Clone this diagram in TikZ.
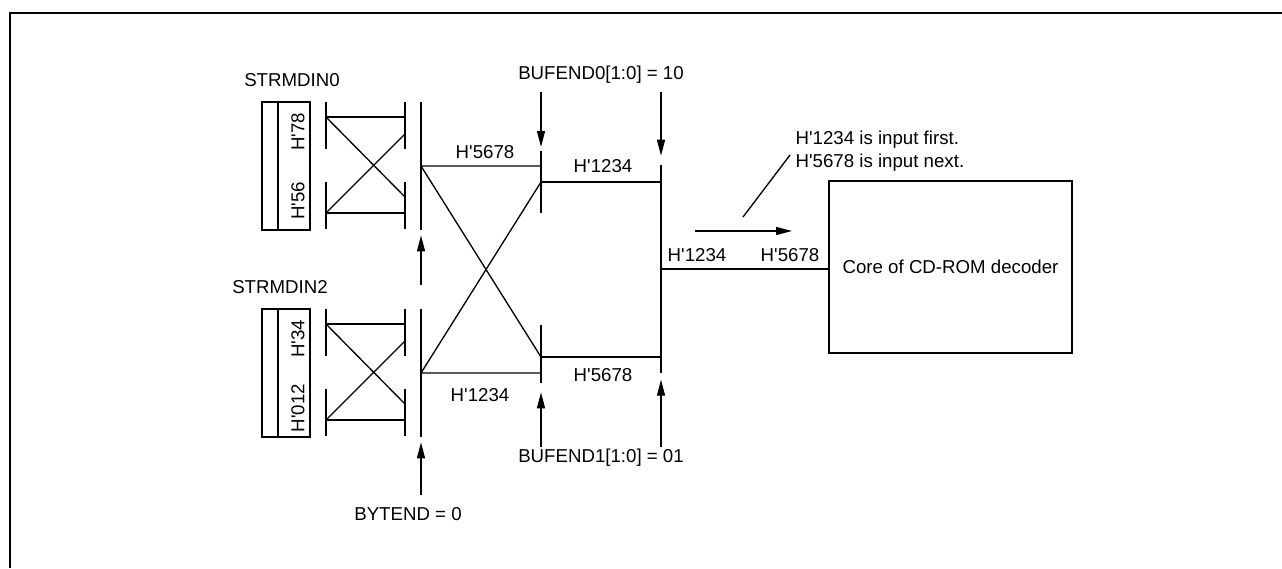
\documentclass[tikz,border=0pt]{standalone}
\usepackage{fontspec}
\setmainfont{Liberation Sans}
\usetikzlibrary{arrows.meta, positioning}
\tikzset{
  every picture/.style={font=\fontsize{14}{16.8}\selectfont, line width=1pt, x=0.75pt, y=-0.75pt},
  reg/.style={draw, line width=1.7pt},
  arrow/.style={-{Triangle[length=12pt, width=6pt]}, line width=1pt, shorten >=4pt},
  lbl/.style={inner sep=0pt},
}
\newcommand{\hval}[1]{H\textquotesingle#1}
% register with its byte swap, #2 = vertical offset in px
\newcommand{\regmux}[4]{%
  \begin{scope}[shift={(0,#2)}]
    \draw[reg] (262,102) rectangle (310,230) (278,102) -- (278,230);
    \node[lbl, rotate=90] (#1hi) at (298,132) {\hval{#3}};
    \node[lbl, rotate=90] (#1lo) at (298,201) {\hval{#4}};
    \coordinate (#1l1) at (326,117); \coordinate (#1l2) at (326,213);
    \coordinate (#1r1) at (405,134); \coordinate (#1r2) at (405,197);
    \draw (326,102) -- (326,149) (326,182) -- (326,229);
    \draw (405,102) -- (405,149) (405,182) -- (405,229);
    \draw (#1l1) -- (#1l1 -| #1r1) (#1l2) -- (#1l2 -| #1r2);
    \draw (#1l1) -- (#1r2) (#1l2) -- (#1r1);
    \coordinate (#1bt) at (421,102); \coordinate (#1bb) at (421,230);
    \coordinate (#1out) at (421,166);
    \draw (#1bt) -- (#1bb);
  \end{scope}}

\begin{document}
\begin{tikzpicture}
  \useasboundingbox (0,0) rectangle (1282,568);
  \draw[line width=1.6pt] (10,568) -- (10,13) -- (1282,13);
  % input registers
  \node[lbl] (strm0) at (292,80) {STRMDIN0};
  \node[lbl] (strm2) at (280,287) {STRMDIN2};
  \regmux{a}{0}{78}{56}
  \regmux{b}{207}{34}{012}
  \node[lbl] (byt) at (408,514) {BYTEND = 0};
  \coordinate (byt1) at (421,285); \coordinate (byt2) at (421,495);
  \draw[arrow] (byt1) -- (abb);
  \draw[arrow] (byt2) -- (bbb);
  % word swap
  \coordinate (s0t) at (541,151); \coordinate (s0b) at (541,213);
  \coordinate (s0a) at (541,166); \coordinate (s0o) at (541,182);
  \coordinate (s1t) at (541,325); \coordinate (s1b) at (541,383);
  \coordinate (s1o) at (541,357); \coordinate (s1a) at (541,373);
  \coordinate (jt) at (661,165); \coordinate (jb) at (661,373);
  \coordinate (jo) at (661,269);
  \draw (s0t) -- (s0b) (s1t) -- (s1b) (jt) -- (jb);
  \draw (aout) -- (s0a) (aout) -- (s1o);
  \draw (bout) -- (s1a) (bout) -- (s0o);
  \draw (s0o) -- (s0o -| jt) (s1o) -- (s1o -| jt);
  \node[lbl] (la) at (485,152) {\hval{5678}};
  \node[lbl] (lb) at (480,395) {\hval{1234}};
  \node[lbl] (lc) at (603,166) {\hval{1234}};
  \node[lbl] (ld) at (603,375) {\hval{5678}};
  \node[lbl] (bf0) at (601,75) {BUFEND0[1:0] = 10};
  \node[lbl] (bf1) at (601,458) {BUFEND1[1:0] = 01};
  \coordinate (bf0a) at (541,92); \coordinate (bf0b) at (661,92);
  \coordinate (bf1a) at (541,447); \coordinate (bf1b) at (661,447);
  \draw[arrow, shorten >=3pt] (bf0a) -- (s0t);
  \draw[arrow, shorten >=7pt] (bf0b) -- (jt);
  \draw[arrow, shorten >=7pt] (bf1a) -- (s1b);
  \draw[arrow, shorten >=5pt] (bf1b) -- (jb);
  % decoder
  \node[draw, line width=1.6pt, minimum width=182pt, minimum height=129pt] (core) at (950.5,267) {Core of CD-ROM decoder};
  \draw (jo) -- (jo -| core.west);
  \node[lbl] (le) at (697,255) {\hval{1234}};
  \node[lbl] (lf) at (790,255) {\hval{5678}};
  \coordinate (dir1) at (695,231); \coordinate (dir2) at (792,231);
  \draw[arrow, shorten >=0pt] (dir1) -- (dir2);
  \coordinate (sl1) at (743,217); \coordinate (sl2) at (790,155);
  \draw (sl1) -- (sl2);
  \node[lbl, anchor=west, align=left] (note) at (795,151) {\hval{1234} is input first.\\\hval{5678} is input next.};
\end{tikzpicture}
\end{document}
